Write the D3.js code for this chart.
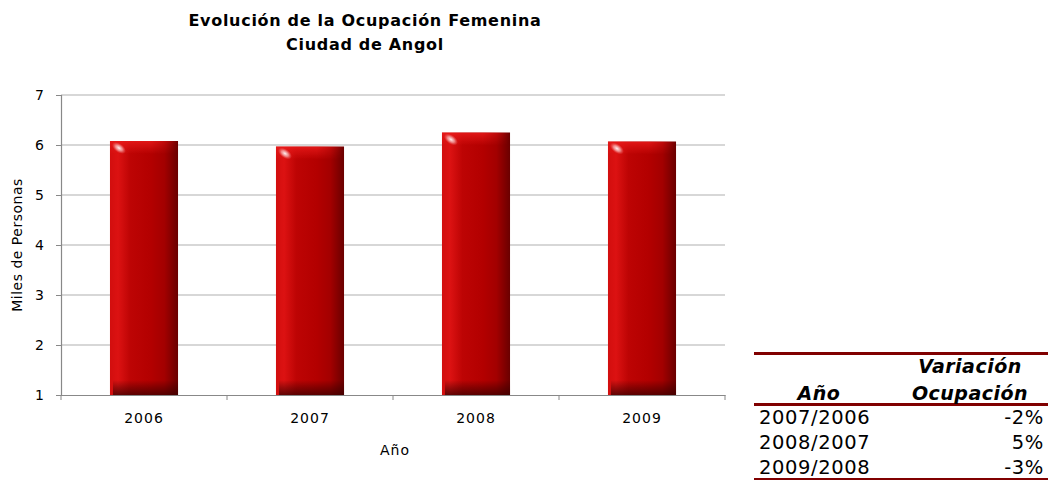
<!DOCTYPE html>
<html>
<head>
<meta charset="utf-8">
<script src="https://cdn.jsdelivr.net/npm/d3@7"></script>
<style>
  body { margin: 0; background: #fff; }
  text { font-family: "DejaVu Sans", Verdana, sans-serif; }
</style>
</head>
<body>
<div id="chart"></div>
<script>
var years = ["2006", "2007", "2008", "2009"];
var ocupacion = [6.08, 5.97, 6.25, 6.07];
var yTicks = [1, 2, 3, 4, 5, 6, 7];
var periodos = ["2007/2006", "2008/2007", "2009/2008"];
var variacion = ["-2%", "5%", "-3%"];

var svg = d3.select("#chart").append("svg")
  .attr("width", 1050)
  .attr("height", 480);

var pLeft = 61, pRight = 725, pTop = 95, pBottom = 395;

var x = d3.scaleBand().domain(years).range([pLeft, pRight]).paddingInner(0.59).paddingOuter(0.295);
var y = d3.scaleLinear().domain([1, 7]).range([pBottom, pTop]);

var defs = svg.append("defs");
var g1 = defs.append("linearGradient").attr("id", "barH").attr("x1", 0).attr("x2", 1).attr("y1", 0).attr("y2", 0);
[[0, "#d20e0e"], [0.12, "#dc1212"], [0.3, "#bd0404"], [0.6, "#b30000"], [0.8, "#a30000"], [1, "#6a0000"]].forEach(function(s) {
  g1.append("stop").attr("offset", s[0]).attr("stop-color", s[1]);
});
var g2 = defs.append("linearGradient").attr("id", "barV").attr("x1", 0).attr("x2", 0).attr("y1", 0).attr("y2", 1);
[[0, "#3a0000", 0.0], [0.5, "#3a0000", 0.4], [1, "#3a0000", 0.75]].forEach(function(s) {
  g2.append("stop").attr("offset", s[0]).attr("stop-color", s[1]).attr("stop-opacity", s[2]);
});
var g3 = defs.append("linearGradient").attr("id", "barTop").attr("x1", 0).attr("x2", 0).attr("y1", 0).attr("y2", 1);
[[0, "#e81a1a", 0.85], [1, "#e81a1a", 0]].forEach(function(s) {
  g3.append("stop").attr("offset", s[0]).attr("stop-color", s[1]).attr("stop-opacity", s[2]);
});
var g4 = defs.append("linearGradient").attr("id", "barTopFade").attr("x1", 0).attr("x2", 1).attr("y1", 0).attr("y2", 0);
[[0, "#fff", 1], [0.6, "#fff", 1], [1, "#fff", 0]].forEach(function(s) {
  g4.append("stop").attr("offset", s[0]).attr("stop-color", s[1]).attr("stop-opacity", s[2]);
});
defs.append("mask").attr("id", "topMask").attr("maskContentUnits", "objectBoundingBox")
  .append("rect").attr("width", 1).attr("height", 1).attr("fill", "url(#barTopFade)");
var rg = defs.append("radialGradient").attr("id", "shine");
[[0, "#fff", 0.95], [0.5, "#fbd0d0", 0.6], [1, "#f08080", 0]].forEach(function(s) {
  rg.append("stop").attr("offset", s[0]).attr("stop-color", s[1]).attr("stop-opacity", s[2]);
});

// grid lines
svg.selectAll("line.grid")
  .data(yTicks.slice(1))
  .enter().append("line")
    .attr("class", "grid")
    .attr("x1", pLeft).attr("x2", pRight)
    .attr("y1", function(d) { return y(d); })
    .attr("y2", function(d) { return y(d); })
    .attr("stroke", "#b0b0b0")
    .attr("stroke-width", 1.2);

// bars
var bars = svg.selectAll("g.bar")
  .data(years)
  .enter().append("g")
    .attr("class", "bar");

bars.append("rect")
  .attr("x", function(d) { return x(d); })
  .attr("y", function(d, i) { return y(ocupacion[i]); })
  .attr("width", x.bandwidth())
  .attr("height", function(d, i) { return pBottom - y(ocupacion[i]); })
  .attr("fill", "url(#barH)");

// dark bottom band
bars.append("rect")
  .attr("x", function(d) { return x(d) + 3; })
  .attr("y", pBottom - 15)
  .attr("width", x.bandwidth() - 3)
  .attr("height", 15)
  .attr("fill", "url(#barV)");

// bright top band
bars.append("rect")
  .attr("x", function(d) { return x(d); })
  .attr("y", function(d, i) { return y(ocupacion[i]); })
  .attr("width", x.bandwidth())
  .attr("height", 13)
  .attr("fill", "url(#barTop)")
  .attr("mask", "url(#topMask)");

bars.append("ellipse")
  .attr("cx", function(d) { return x(d) + 9; })
  .attr("cy", function(d, i) { return y(ocupacion[i]) + 7; })
  .attr("rx", 8).attr("ry", 4.5)
  .attr("transform", function(d, i) { return "rotate(35," + (x(d) + 9) + "," + (y(ocupacion[i]) + 7) + ")"; })
  .attr("fill", "url(#shine)");

// y axis
var yAxis = svg.append("g")
  .attr("transform", "translate(" + pLeft + ",0)")
  .call(d3.axisLeft(y).tickValues(yTicks).tickFormat(d3.format("d")).tickSize(5).tickPadding(12));
yAxis.select(".domain").attr("stroke", "#888").attr("stroke-width", 1.2);
yAxis.selectAll(".tick line").attr("stroke", "#888");
yAxis.selectAll("text").attr("font-size", 14).attr("fill", "#000")
  .style("font-family", "DejaVu Sans, sans-serif");

// x axis
var xAxis = svg.append("g")
  .attr("transform", "translate(0," + pBottom + ")")
  .call(d3.axisBottom(x).tickSize(0).tickPadding(18));
xAxis.select(".domain").attr("stroke", "#888").attr("stroke-width", 1.2);
xAxis.selectAll("text").attr("font-size", 14).attr("fill", "#000")
  .attr("letter-spacing", 1)
  .style("font-family", "DejaVu Sans, sans-serif");
var step = x.step();
xAxis.selectAll("line.sep")
  .data(d3.range(5))
  .enter().append("line")
    .attr("class", "sep")
    .attr("x1", function(d) { return pLeft + d * step; })
    .attr("x2", function(d) { return pLeft + d * step; })
    .attr("y1", 0).attr("y2", 5)
    .attr("stroke", "#888");

// axis titles
svg.append("text")
  .attr("transform", "translate(22," + ((pTop + pBottom) / 2) + ") rotate(-90)")
  .attr("text-anchor", "middle")
  .attr("font-size", 14).attr("letter-spacing", 0.5)
  .text("Miles de Personas");

svg.append("text")
  .attr("x", (pLeft + pRight) / 2 + 2)
  .attr("y", 455)
  .attr("text-anchor", "middle")
  .attr("font-size", 14).attr("letter-spacing", 1)
  .text("Año");

// title
svg.append("text")
  .attr("x", 365).attr("y", 26)
  .attr("text-anchor", "middle")
  .attr("font-size", 16).attr("font-weight", "bold").attr("letter-spacing", 0.7)
  .text("Evolución de la Ocupación Femenina");
svg.append("text")
  .attr("x", 365).attr("y", 50)
  .attr("text-anchor", "middle")
  .attr("font-size", 16).attr("font-weight", "bold").attr("letter-spacing", 0.7)
  .text("Ciudad de Angol");

// table
var tx0 = 754, tx1 = 1048;
var table = svg.append("g");
table.append("rect").attr("x", tx0).attr("y", 352).attr("width", tx1 - tx0).attr("height", 3).attr("fill", "#800000");
table.append("rect").attr("x", tx0).attr("y", 403).attr("width", tx1 - tx0).attr("height", 3).attr("fill", "#800000");
table.append("rect").attr("x", tx0).attr("y", 478).attr("width", tx1 - tx0).attr("height", 2).attr("fill", "#800000");

table.append("text")
  .attr("x", 819).attr("y", 400)
  .attr("text-anchor", "middle")
  .attr("font-size", 19).attr("font-weight", "bold").attr("font-style", "italic").attr("letter-spacing", 0.5)
  .text("Año");
table.append("text")
  .attr("x", 970).attr("y", 373)
  .attr("text-anchor", "middle")
  .attr("font-size", 19).attr("font-weight", "bold").attr("font-style", "italic").attr("letter-spacing", 0.5)
  .text("Variación");
table.append("text")
  .attr("x", 970).attr("y", 400)
  .attr("text-anchor", "middle")
  .attr("font-size", 19).attr("font-weight", "bold").attr("font-style", "italic").attr("letter-spacing", 0.5)
  .text("Ocupación");

table.selectAll("text.per")
  .data(periodos)
  .enter().append("text")
    .attr("class", "per")
    .attr("x", 759)
    .attr("y", function(d, i) { return 424 + i * 25; })
    .attr("font-size", 19.5).attr("letter-spacing", 0.6)
    .text(function(d) { return d; });

table.selectAll("text.var")
  .data(variacion)
  .enter().append("text")
    .attr("class", "var")
    .attr("x", 1044)
    .attr("y", function(d, i) { return 424 + i * 25; })
    .attr("text-anchor", "end")
    .attr("font-size", 19.5).attr("letter-spacing", 0.6)
    .text(function(d) { return d; });
</script>
</body>
</html>
